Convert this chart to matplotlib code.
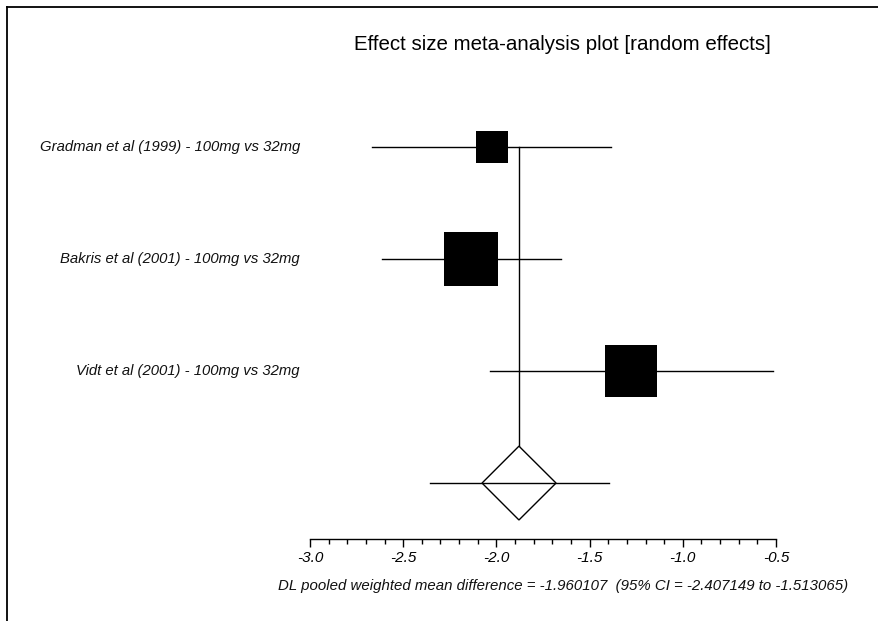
import matplotlib
matplotlib.use("Agg")
import matplotlib.pyplot as plt
import numpy as np
from matplotlib.patches import Polygon
from matplotlib.lines import Line2D
from matplotlib.ticker import MultipleLocator, FormatStrFormatter

plt.rcParams['font.family'] = ['Liberation Sans', 'DejaVu Sans']

studies = ["Gradman et al (1999) - 100mg vs 32mg",
           "Bakris et al (2001) - 100mg vs 32mg",
           "Vidt et al (2001) - 100mg vs 32mg"]
effect = [-2.026, -2.134, -1.278]
ci_low = [-2.667, -2.614, -2.034]
ci_high = [-1.385, -1.653, -0.518]
weights = [14.4, 45.2, 40.4]

pooled = -1.879
pooled_diamond = (-2.077, -1.680)
pooled_line = (-2.356, -1.396)

title = "Effect size meta-analysis plot [random effects]"
footer = "DL pooled weighted mean difference = -1.960107  (95% CI = -2.407149 to -1.513065)"

W, H = 879, 621
fig = plt.figure(figsize=(W / 100, H / 100), dpi=100)
ax = fig.add_axes([310 / W, 1 - 539 / H, 466 / W, (539 - 91.5) / H])
ax.set_xlim(-3.0, -0.5)
ax.set_ylim(3.5, -0.5)

lw = 1.0
rows = np.arange(len(studies))
for i in rows:
    ax.plot([ci_low[i], ci_high[i]], [i, i], color='black', lw=lw, clip_on=False, zorder=2)
    ax.plot([effect[i]], [i], marker='s', color='black', ms=5.89 * np.sqrt(weights[i]),
            mew=0, clip_on=False, zorder=3, linestyle='none')
    ax.text(-3.0 - 10 / 186.4, i, studies[i], ha='right', va='center', fontsize=10.7,
            style='italic', color='#111111')

pr = len(studies)
h = 0.33
# vertical pooled line
ax.plot([pooled, pooled], [0, pr - h], color='black', lw=lw, clip_on=False, zorder=1)
dia = Polygon([(pooled_diamond[0], pr), (pooled, pr - h), (pooled_diamond[1], pr), (pooled, pr + h)],
              closed=True, facecolor='white', edgecolor='black', lw=lw, zorder=2, clip_on=False)
ax.add_patch(dia)
ax.plot(list(pooled_line), [pr, pr], color='black', lw=lw, clip_on=False, zorder=3)

for s in ['left', 'right', 'top']:
    ax.spines[s].set_visible(False)
ax.spines['bottom'].set_linewidth(1.0)
ax.set_yticks([])
ax.xaxis.set_major_locator(MultipleLocator(0.5))
ax.xaxis.set_minor_locator(MultipleLocator(0.1))
ax.xaxis.set_major_formatter(FormatStrFormatter('%.1f'))
ax.tick_params(axis='x', which='major', direction='out', length=6, width=1.0, pad=3,
               labelsize=11)
ax.tick_params(axis='x', which='minor', direction='out', length=3.5, width=1.0)
for lab in ax.get_xticklabels():
    lab.set_style('italic')
ax.patch.set_visible(False)

fig.text(562 / W, 1 - 45 / H, title, ha='center', va='center', fontsize=14.8)
fig.text(563 / W, 1 - 586 / H, footer, ha='center', va='center', fontsize=10.8,
         style='italic', color='#111111')

# outer frame (left and top edges)
fig.add_artist(Line2D([7 / W, 7 / W], [0, 1 - 7 / H], transform=fig.transFigure,
                      color='black', lw=1.3))
fig.add_artist(Line2D([7 / W, 1], [1 - 7 / H, 1 - 7 / H], transform=fig.transFigure,
                      color='black', lw=1.3))

fig.savefig("out.png", dpi=100)
